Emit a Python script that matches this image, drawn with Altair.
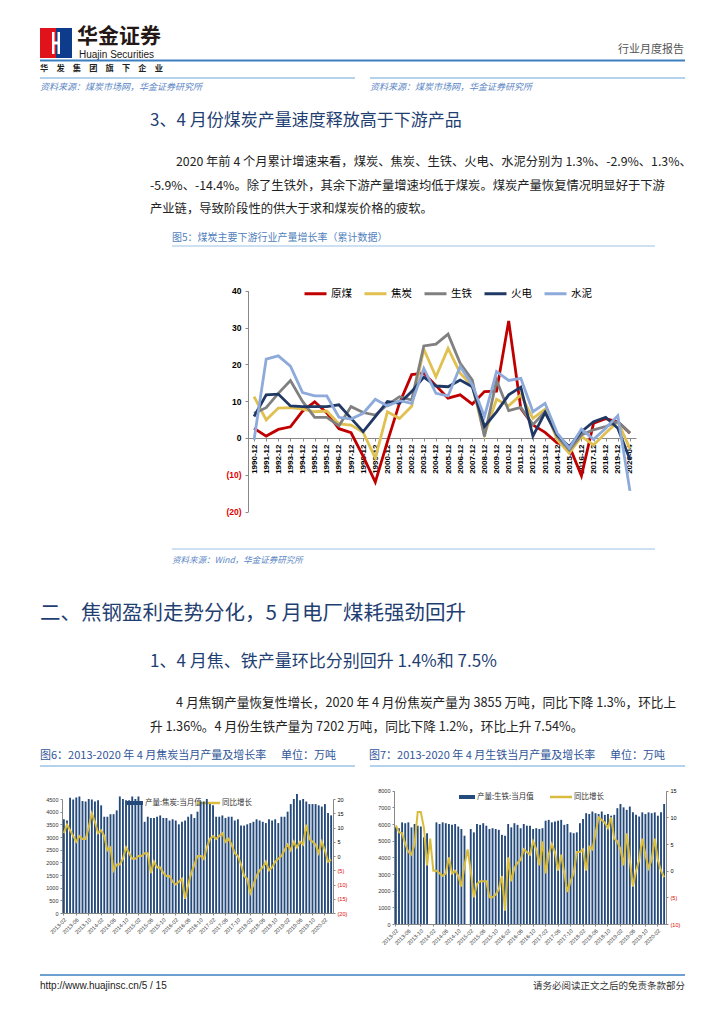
import json
import altair as alt
import pandas as pd

CJK = "Noto Sans CJK SC"
LAT = "Liberation Sans"
W, H = 708, 1008
M = 8  # page margin

# ---------------- main chart data (图5) ----------------
x_labels = ['1990-12', '1991-12', '1992-12', '1993-12', '1994-12', '1995-12', '1995-12',
            '1996-12', '1997-12', '1998-12', '1999-12', '2000-12', '2001-12', '2002-12',
            '2003-12', '2004-12', '2005-12', '2006-12', '2007-12', '2008-12', '2009-12',
            '2010-12', '2011-12', '2012-12', '2013-12', '2014-12', '2015-12', '2016-12',
            '2017-12', '2018-12', '2019-12', '2020-04']
series_names = ['原煤', '焦炭', '生铁', '火电', '水泥']
series_colors = ['#C00000', '#E0C050', '#808080', '#1F3864', '#8EAADB']

yuanmei = [2.6, 0.5, 2.3, 3.0, 7.3, 9.8, 6.8, 2.5, 1.4, -5.0, -12.0, -1.0, 9.5, 17.2, 17.6, 14.2,
           10.8, 11.7, 9.2, 12.6, 12.7, 31.8, 8.0, 3.5, 1.5, -1.4, -2.2, -10.3, 4.0, 5.2, 4.4, 1.3]
jiaotan = [11.2, 4.9, 8.1, 8.2, 7.8, 7.1, 7.3, 3.8, 3.5, 1.5, -5.5, 7.1, 5.3, 8.6, 24.1, 16.6,
           24.3, 17.6, 14.1, 0.8, 10.5, 8.7, 11.7, 5.3, 7.8, -0.5, -4.2, 0.4, -1.9, 1.3, 4.4, -2.9]
shengtie = [6.7, 8.2, 12.1, 15.6, 9.9, 5.6, 5.6, 3.3, 8.5, 6.9, 6.2, 9.0, 11.2, 10.3, 25.0, 25.5,
            28.2, 20.3, 15.7, 0.4, 15.6, 7.4, 8.3, 3.6, 7.1, 0.4, -3.3, 0.8, 2.2, 3.1, 4.4, 1.3]
huodian = [5.8, 11.7, 11.9, 8.7, 8.5, 8.5, 8.5, 9.0, 5.3, 1.7, 5.8, 9.9, 9.4, 12.6, 16.5, 14.1,
           13.9, 15.7, 13.9, 3.1, 7.1, 11.7, 13.8, 0.5, 6.9, 0.8, -2.4, 1.7, 4.4, 5.6, 2.6, -5.9]
shuini = [-0.5, 21.4, 22.3, 19.5, 12.3, 11.4, 11.4, 5.6, 5.1, 6.7, 10.5, 8.7, 10.1, 9.4, 18.9, 12.1,
          11.4, 19.4, 14.4, 5.8, 18.0, 15.6, 16.2, 7.1, 9.4, 1.3, -2.8, 2.4, -0.4, 2.6, 6.0, -14.4]
y_ticks_main = [-20, -10, 0, 10, 20, 30, 40]

# ---------------- 图6 data ----------------
coke_output = [3700, 3650, 4550, 4480, 4560, 4600, 4420, 4400, 4500, 4480, 4400,
               4450, 4250, 3800, 3800, 3900, 3900, 4050, 4600, 4500, 4450, 4450, 4600,
               4500, 4600, 4300, 3600, 3800, 3750, 3750, 3800, 3850, 3750, 3750, 3650,
               3700, 3650, 3500, 3600, 3650, 3800, 3900, 3750, 4000, 4400, 4400, 4500,
               4300, 4250, 3800, 3800, 3850, 3750, 3800, 3800, 3650, 3700, 3450, 3450,
               3500, 3550, 3600, 3700, 3650, 3600, 3550, 3700, 3650, 3700, 3550, 3800,
               3800, 4000, 4300, 4500, 4700, 4450, 4500, 4400, 4300, 4300, 4300, 4250,
               4200, 4300, 3950, 3855]
coke_yoy = [8, 11, 9, 7, 5, 7, 6, 6, 10, 15, 12,
            8, 9, 7, 2, 3, -5, -3, -3, -1, 3, 1, -1,
            -1, 0, 0, 1, 1, -6, -2, -4, -4, -6, -7, -7,
            -9, -10, -9, -8, -15, -10, -6, -3, 0, 0, -1, 3,
            6, 7, 6, 7, 8, 5, 6, 4, 1, 0, -3, -7,
            -8, -13, -10, -7, -5, -4, -2, -5, -4, -2, -1, 0,
            2, 4, 2, 5, 3, 5, 4, 11, 6, 5, 4, 1,
            5, 2, -2, -1.3]
months6 = pd.period_range('2013-02', periods=len(coke_output), freq='M').strftime('%Y-%m').tolist()

# ---------------- 图7 data ----------------
iron_output = [5800, 5750, 6100, 6050, 6100, 5800, 6000, 5900, 5850, 5200, 5450,
               None, None, 6100, 6000, 6100, 6050, 6000, 5950, 6000, 5850, 5700, 5300,
               None, 5700, 5500, 6000, 5950, 6050, 5900, 5700, 5750, 5700, 5650, 5350,
               5300, 6000, 5800, 6050, 5950, 5750, 6000, 5900, 5900, 5700, 5750, 5700,
               5750, 6200, 6250, 6100, 6150, 6200, 6250, 5950, 6000, 5500, 5450, 5500,
               6050, 6300, 6650, 6600, 6750, 6650, 6600, 6750, 6550, 6600, 6500, 6550,
               6950, 7200, 7000, 6850, 7050, 6700, 6550, 6450, 6700, 6600, 6700, 6650,
               6700, 6500, 6700, 7202]
iron_yoy = [8.5, 7.2, 7.0, 5.0, 3.5, 3.0, 5.0, 11.0, 11.0, 8.0, 1.0,
            6.0, 0.0, 0.0, -0.5, -1.0, -0.5, 2.5, -0.5, 0.0, -1.0, -3.0, 1.0,
            4.0, 0.0, -5.0, -2.5, -2.0, -2.0, -2.0, -5.0, -5.0, -4.5, -3.5, -1.0,
            -7.5, 2.5, -2.0, 0.5, 1.5, 2.0, 4.0, 3.5, 3.0, 5.5, 4.0, 1.0,
            5.5, -0.5, 3.0, 5.0, 3.5, 0.0, 3.0, -0.5, -4.0, -2.0, -0.5, 3.5,
            3.5, 4.0, 0.0, 4.5, 4.0, 7.0, 10.0, 9.5, 9.0, 8.0, 10.0, 6.0,
            5.5, 4.0, 1.0, 7.0, 2.0, -3.0, 0.0, 2.0, 6.0, 3.0, 0.5, 2.0,
            6.0, 2.0, 0.0, -1.2]
months7 = pd.period_range('2013-02', periods=len(iron_output), freq='M').strftime('%Y-%m').tolist()

BAR = '#24497B'
YEL = '#D9BC3E'
HEAD = '#1F3F73'
FIGT = '#2F5597'
SRC = '#5B86C5'
LINE_LT = '#9DC3E6'
LINE_DK = '#3C7FC0'
NB = '\u00a0'

ONE = pd.DataFrame({'a': [1]})


def px(x):
    return x - M


def py(y):
    return y - M


def txt(s, x, y, size=12.0, color='#222222', font=CJK, weight='normal', style='normal',
        align='left'):
    return alt.Chart(ONE).mark_text(
        text=s, font=font, fontSize=size, color=color, fontWeight=weight,
        fontStyle=style, align=align, baseline='middle'
    ).encode(x=alt.value(px(x)), y=alt.value(py(y)))


def hline(x1, x2, y, color, width=1.0):
    return alt.Chart(ONE).mark_rule(color=color, strokeWidth=width).encode(
        x=alt.value(px(x1)), x2=alt.value(px(x2)), y=alt.value(py(y)))


def box(x1, y1, x2, y2, color):
    return alt.Chart(ONE).mark_rect(color=color).encode(
        x=alt.value(px(x1)), x2=alt.value(px(x2)), y=alt.value(py(y1)), y2=alt.value(py(y2)))


NEG_RED = {"condition": {"test": "datum.value < 0", "value": "#E00000"}, "value": "#000000"}
PAREN = "datum.value < 0 ? '(' + (-datum.value) + ')' : '' + datum.value"

# ---------------- main line chart ----------------
rows = []
for name, vals in zip(series_names, [yuanmei, jiaotan, shengtie, huodian, shuini]):
    for i, v in enumerate(vals):
        rows.append({'idx': i, 'series': name, 'v': v})
df_main = pd.DataFrame(rows)

main = alt.Chart(df_main).mark_line(strokeWidth=2.8).encode(
    x=alt.X('idx:O',
            scale=alt.Scale(type='point', range=[px(248), px(636)], padding=0.5),
            axis=alt.Axis(orient='bottom', offset=py(438) - H, title=None,
                          labelAngle=270, labelAlign='right', labelBaseline='middle',
                          labelFont=LAT, labelFontSize=8, labelFontWeight='bold',
                          labelColor='#000000', labelPadding=3, labelOverlap=False,
                          labelExpr=json.dumps(x_labels, ensure_ascii=False) + "[datum.value]",
                          tickSize=3, tickColor='#888888', domainColor='#888888', grid=False)),
    y=alt.Y('v:Q',
            scale=alt.Scale(domain=[-20, 40], range=[py(511.5), py(290.7)], nice=False, zero=False),
            axis=alt.Axis(orient='left', offset=-px(248), title=None, values=y_ticks_main,
                          labelExpr=PAREN, labelColor=NEG_RED, labelFont=LAT, labelFontSize=8.5,
                          labelFontWeight='bold', labelPadding=4, tickSize=3,
                          tickColor='#888888', domainColor='#888888', grid=False)),
    color=alt.Color('series:N', scale=alt.Scale(domain=series_names, range=series_colors),
                    legend=alt.Legend(orient='none', legendX=px(303), legendY=py(281),
                                      direction='horizontal', title=None, symbolType='stroke',
                                      symbolStrokeWidth=3, symbolSize=484, labelFont=CJK,
                                      labelFontSize=10.5, labelColor='#000000',
                                      columnPadding=6, labelOffset=3)),
)

# ---------------- 图6 ----------------
df6 = pd.DataFrame({'m': months6, 'v': coke_output, 'g': coke_yoy})
x6 = alt.X('m:O', sort=months6,
           scale=alt.Scale(type='band', range=[px(62), px(333)], paddingInner=0.4, paddingOuter=0.3),
           axis=alt.Axis(orient='bottom', offset=py(913) - H, title=None, values=months6[::4],
                         labelAngle=-45, labelAlign='right', labelBaseline='top',
                         labelFont=LAT, labelFontSize=5.5, labelColor='#333333',
                         tickSize=2, domainColor='#888888', tickColor='#888888', labelOverlap=False))
bars6 = alt.Chart(df6).mark_bar(color=BAR).encode(
    x=x6,
    y=alt.Y('v:Q', scale=alt.Scale(domain=[0, 4500], range=[py(913), py(799)], nice=False),
            axis=alt.Axis(orient='left', offset=-px(62), title=None, values=list(range(0, 4501, 500)),
                          format='d', labelFont=LAT, labelFontSize=5.5, labelColor='#333333',
                          tickSize=2, domainColor='#888888', tickColor='#888888', grid=False)))
line6 = alt.Chart(df6).mark_line(color=YEL, strokeWidth=2).encode(
    x=alt.X('m:O', sort=months6),
    y=alt.Y('g:Q', scale=alt.Scale(domain=[-20, 20], range=[py(913), py(799)], nice=False, zero=False),
            axis=alt.Axis(orient='right', offset=px(333) - W, title=None,
                          values=[-20, -15, -10, -5, 0, 5, 10, 15, 20], labelExpr=PAREN,
                          labelColor=NEG_RED, labelFont=LAT, labelFontSize=5.5, tickSize=2,
                          domainColor='#888888', tickColor='#888888', grid=False)))
fig6 = alt.layer(bars6, line6).resolve_scale(y='independent')

# ---------------- 图7 ----------------
df7 = pd.DataFrame({'m': months7, 'v': iron_output, 'g': iron_yoy})
x7 = alt.X('m:O', sort=months7,
           scale=alt.Scale(type='band', range=[px(394), px(666)], paddingInner=0.4, paddingOuter=0.3),
           axis=alt.Axis(orient='bottom', offset=py(924) - H, title=None, values=months7[::4],
                         labelAngle=-45, labelAlign='right', labelBaseline='top',
                         labelFont=LAT, labelFontSize=5.5, labelColor='#333333',
                         tickSize=2, domainColor='#888888', tickColor='#888888', labelOverlap=False))
bars7 = alt.Chart(df7).mark_bar(color=BAR).encode(
    x=x7,
    y=alt.Y('v:Q', scale=alt.Scale(domain=[0, 8000], range=[py(924), py(790.7)], nice=False),
            axis=alt.Axis(orient='left', offset=-px(394), title=None, values=list(range(0, 8001, 1000)),
                          format='d', labelFont=LAT, labelFontSize=5.5, labelColor='#333333',
                          tickSize=2, domainColor='#888888', tickColor='#888888', grid=False)))
line7 = alt.Chart(df7).mark_line(color=YEL, strokeWidth=2).encode(
    x=alt.X('m:O', sort=months7),
    y=alt.Y('g:Q', scale=alt.Scale(domain=[-10, 15], range=[py(924), py(790.7)], nice=False, zero=False),
            axis=alt.Axis(orient='right', offset=px(666) - W, title=None,
                          values=[-10, -5, 0, 5, 10, 15], labelExpr=PAREN,
                          labelColor=NEG_RED, labelFont=LAT, labelFontSize=5.5, tickSize=2,
                          domainColor='#888888', tickColor='#888888', grid=False)))
fig7 = alt.layer(bars7, line7).resolve_scale(y='independent')

# ---------------- page text & decorations ----------------
deco = [
    # logo
    box(40, 28, 56, 58, '#E0121B'), box(56, 28, 72, 58, '#0D3C8C'),
    box(52, 32, 54.5, 54, '#FFFFFF'), box(57.5, 32, 60, 54, '#FFFFFF'), box(52, 41.5, 60, 44.5, '#FFFFFF'),
    txt('华金证券', 77, 37, 21, '#231815', weight='bold'),
    txt('Huajin Securities', 79, 54.5, 10, '#231815', font=LAT),
    txt('行业月度报告', 684, 50, 11, '#555555', align='right'),
    hline(40, 685, 60.5, LINE_DK, 2),
    txt('华　发　集　团　旗　下　企　业', 40, 69, 8.2, '#222222', weight='bold'),
    hline(40, 355, 78, LINE_LT, 1.5), hline(370, 685, 78, LINE_LT, 1.5),
    txt('资料来源：煤炭市场网，华金证券研究所', 40, 86.5, 9, SRC, style='italic'),
    txt('资料来源：煤炭市场网，华金证券研究所', 370, 86.5, 9, SRC, style='italic'),
    # section 3
    txt('3、4 月份煤炭产量速度释放高于下游产品', 150, 121, 17, HEAD),
    txt('2020 年前 4 个月累计增速来看，煤炭、焦炭、生铁、火电、水泥分别为 1.3%、-2.9%、1.3%、',
        176, 162, 12.3, '#222222'),
    txt('-5.9%、-14.4%。除了生铁外，其余下游产量增速均低于煤炭。煤炭产量恢复情况明显好于下游',
        150, 186, 12.3, '#222222'),
    txt('产业链，导致阶段性的供大于求和煤炭价格的疲软。', 150, 209, 12.3, '#222222'),
    txt('图5：煤炭主要下游行业产量增长率（累计数据）', 172, 238, 10, '#4F81BD'),
    hline(172, 655, 246, LINE_LT, 1.2),
    hline(172, 655, 549, LINE_LT, 1.2),
    txt('资料来源：Wind，华金证券研究所', 172, 560, 8.5, SRC, style='italic'),
    # section 二
    txt('二、焦钢盈利走势分化，5 月电厂煤耗强劲回升', 40, 614, 20.5, HEAD),
    txt('1、4 月焦、铁产量环比分别回升 1.4%和 7.5%', 150, 662, 17, HEAD),
    txt('4 月焦钢产量恢复性增长，2020 年 4 月份焦炭产量为 3855 万吨，同比下降 1.3%，环比上',
        176, 703, 12.7, '#222222'),
    txt('升 1.36%。4 月份生铁产量为 7202 万吨，同比下降 1.2%，环比上升 7.54%。',
        150, 727, 12.7, '#222222'),
    txt('图6：2013-2020 年 4 月焦炭当月产量及增长率' + NB * 6 + '单位：万吨', 40, 756, 11, FIGT),
    txt('图7：2013-2020 年 4 月生铁当月产量及增长率' + NB * 6 + '单位：万吨', 369, 756, 11, FIGT),
    hline(40, 355, 766, LINE_LT, 1.5), hline(370, 685, 766, LINE_LT, 1.5),
    # small chart legends
    box(127, 801, 143, 805, BAR), txt('产量:焦炭:当月值', 145, 803, 7.5, '#333333'),
    hline(197, 220, 803, YEL, 2.5), txt('同比增长', 222, 803, 7.5, '#333333'),
    box(459, 795, 475, 799, BAR), txt('产量:生铁:当月值', 477, 797, 7.5, '#333333'),
    hline(550, 572, 797, YEL, 2.5), txt('同比增长', 574, 797, 7.5, '#333333'),
    # footer
    hline(40, 685, 975, LINE_DK, 1.5),
    txt('http://www.huajinsc.cn/5 / 15', 40, 985.5, 10, '#222222', font=LAT),
    txt('请务必阅读正文之后的免责条款部分', 685, 985.5, 9.5, '#333333', align='right'),
]

chart = alt.layer(*deco, main, fig6, fig7).resolve_scale(
    x='independent', y='independent', color='independent'
).properties(
    width=W, height=H, padding=0, autosize=alt.AutoSizeParams(type='none'),
    background='white'
).configure_view(stroke=None)

chart.save("out.html", embed_options={"renderer": "svg", "actions": False})
